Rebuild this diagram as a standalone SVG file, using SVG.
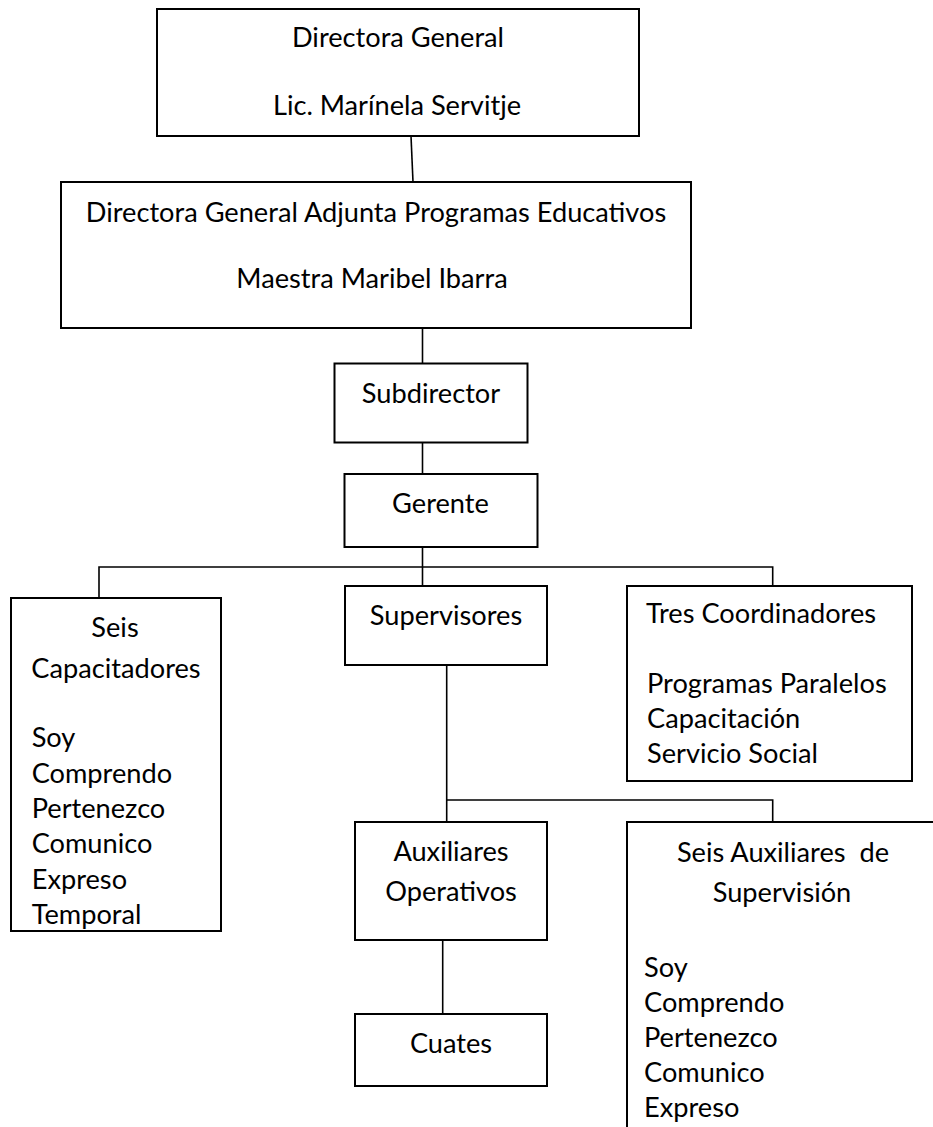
<svg xmlns="http://www.w3.org/2000/svg" width="933" height="1127" viewBox="0 0 933 1127">
<style>
.box{fill:#fff;stroke:#000;stroke-width:2}
.t{font-family:Lato,"Open Sans","Liberation Sans",sans-serif;font-size:27.2px;fill:#000}
.c{text-anchor:middle}
.ln{fill:none;stroke:#000;stroke-width:1.6}
</style>
<rect width="933" height="1127" fill="#fff"/>
<g id="connectors">
<path class="ln" d="M411 136 L413 182"/>
<path class="ln" d="M422.5 328 V363.5"/>
<path class="ln" d="M422.5 442.5 V474"/>
<path class="ln" d="M422.5 547 V586 M99 598 V567 H772.7 V586"/>
<path class="ln" d="M446.7 665 V822 M446.7 800 H772.7 V822"/>
<path class="ln" d="M442.7 940 V1014"/>
</g>
<g id="directora-general">
<rect class="box" x="157" y="9" width="482" height="127"/>
<text class="t c" x="398" y="47">Directora General</text>
<text class="t c" x="397" y="115">Lic. Marínela Servitje</text>
</g>
<g id="directora-adjunta">
<rect class="box" x="61" y="182" width="630" height="146"/>
<text class="t c" x="376" y="222">Directora General Adjunta Programas Educativos</text>
<text class="t c" x="372" y="288">Maestra Maribel Ibarra</text>
</g>
<g id="subdirector">
<rect class="box" x="334.5" y="363.5" width="193" height="79"/>
<text class="t c" x="431" y="403">Subdirector</text>
</g>
<g id="gerente">
<rect class="box" x="344.5" y="474" width="193" height="73"/>
<text class="t c" x="440.5" y="513">Gerente</text>
</g>
<g id="seis-capacitadores">
<rect class="box" x="11" y="598" width="210" height="333"/>
<text class="t c" x="115" y="637">Seis</text>
<text class="t c" x="116" y="678">Capacitadores</text>
<text class="t" x="31.7" y="747">Soy</text>
<text class="t" x="31.7" y="782.5">Comprendo</text>
<text class="t" x="31.7" y="818">Pertenezco</text>
<text class="t" x="31.7" y="853">Comunico</text>
<text class="t" x="31.7" y="888.5">Expreso</text>
<text class="t" x="31.7" y="924">Temporal</text>
</g>
<g id="supervisores">
<rect class="box" x="345" y="586" width="202" height="79"/>
<text class="t c" x="446" y="625">Supervisores</text>
</g>
<g id="tres-coordinadores">
<rect class="box" x="627" y="586" width="285" height="195"/>
<text class="t c" x="761" y="623">Tres Coordinadores</text>
<text class="t" x="647" y="693">Programas Paralelos</text>
<text class="t" x="647" y="728">Capacitación</text>
<text class="t" x="647" y="763">Servicio Social</text>
</g>
<g id="auxiliares-operativos">
<rect class="box" x="355" y="822" width="192" height="118"/>
<text class="t c" x="451" y="861">Auxiliares</text>
<text class="t c" x="451" y="901">Operativos</text>
</g>
<g id="cuates">
<rect class="box" x="355" y="1014" width="192" height="72"/>
<text class="t c" x="451" y="1053">Cuates</text>
</g>
<g id="seis-auxiliares-supervision">
<rect class="box" x="627" y="822" width="400" height="400"/>
<text class="t c" x="783" y="862" xml:space="preserve">Seis Auxiliares  de</text>
<text class="t c" x="782" y="902">Supervisión</text>
<text class="t" x="644" y="977">Soy</text>
<text class="t" x="644" y="1012">Comprendo</text>
<text class="t" x="644" y="1047">Pertenezco</text>
<text class="t" x="644" y="1082">Comunico</text>
<text class="t" x="644" y="1117">Expreso</text>
</g>
</svg>
